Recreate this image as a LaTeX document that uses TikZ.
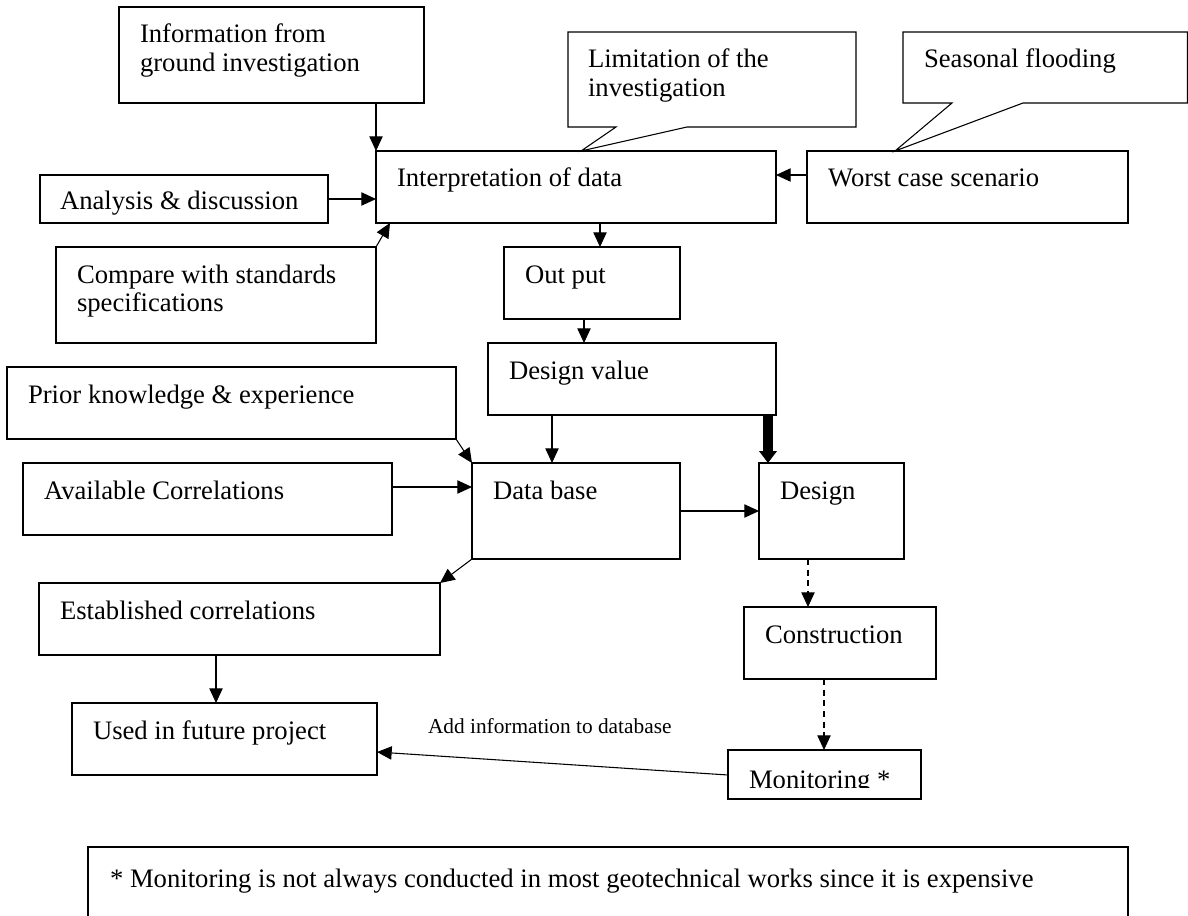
\documentclass[tikz,border=0pt]{standalone}
\usepackage{fontspec}
\setmainfont{Liberation Serif}
\usetikzlibrary{arrows.meta,calc}
\tikzset{
  box/.style={draw, line width=0.8pt, rectangle, inner sep=0pt, outer sep=0pt},
  txt/.style={anchor=base west, inner sep=0pt, outer sep=0pt, font=\fontsize{20}{21.2}\selectfont},
  smalltxt/.style={anchor=base west, inner sep=0pt, outer sep=0pt, font=\fontsize{16}{18}\selectfont},
  arr/.style={line width=0.8pt, -{Triangle[length=11pt,width=10pt]}},
  thickarr/.style={line width=7pt, -{Triangle[length=9pt,width=13pt]}},
  dasharr/.style={arr, dash pattern=on 4.5pt off 3.5pt},
  callout/.style={line width=0.8pt, line join=miter}
}
\newcommand\mybox[5]{%
  \node[box, minimum width={(#4-#2)*0.75pt}, minimum height={(#5-#3)*0.75pt}] (#1) at ({(#2+#4)/2},{(#3+#5)/2}) {};}
\newcommand\boxtext[2]{%
  \node[txt] (#1t) at ($(#1.north west)+(21,36)$) {#2};}
\begin{document}
\begin{tikzpicture}[x=0.75pt,y=-0.75pt]
\useasboundingbox (0,0) rectangle (1188,916);
\clip (0,0) rectangle (1188,916);

% boxes
\mybox{info}{119}{7}{424}{103}
\mybox{interp}{376}{151}{776}{223}
\mybox{ana}{40}{175}{328}{223}
\mybox{comp}{56}{247}{376}{343}
\mybox{worst}{807}{151}{1128}{223}
\mybox{out}{504}{247}{680}{319}
\mybox{dv}{488}{343}{776}{415}
\mybox{prior}{7}{367}{456}{439}
\mybox{avail}{23}{463}{392}{535}
\mybox{db}{472}{463}{680}{559}
\mybox{design}{759}{463}{904}{559}
\mybox{est}{39}{583}{440}{655}
\mybox{constr}{744}{607}{936}{679}
\mybox{used}{72}{703}{377}{775}
\mybox{mon}{728}{750}{921}{799}
\mybox{foot}{88}{847}{1128}{940}

% texts
\boxtext{info}{\begin{tabular}[t]{@{}l@{}}Information from\\ground investigation\end{tabular}}
\boxtext{interp}{Interpretation of data}
\node[txt] (anat) at ($(ana.north west)+(20,35)$) {Analysis \& discussion};
\boxtext{comp}{\begin{tabular}[t]{@{}l@{}}Compare with standards\\specifications\end{tabular}}
\boxtext{worst}{Worst case scenario}
\boxtext{out}{Out put}
\boxtext{dv}{Design value}
\boxtext{prior}{Prior knowledge \& experience}
\boxtext{avail}{Available Correlations}
\boxtext{db}{Data base}
\boxtext{design}{Design}
\boxtext{est}{Established correlations}
\boxtext{constr}{Construction}
\boxtext{used}{Used in future project}
\begin{scope}
  \clip (728,750) rectangle (921,787);
  \node[txt] (mont) at ($(mon.north west)+(21,38)$) {Monitoring *};
\end{scope}
\node[txt] (foott) at ($(foot.north west)+(22,40)$) {* Monitoring is not always conducted in most geotechnical works since it is expensive};

% callouts
\coordinate (limtip) at ($(interp.north west)+(205,0)$);
\draw[callout] (616,127) -- (568,127) -- (568,32) -- (856,32) -- (856,127) -- (687,127) -- (limtip) -- cycle;
\node[txt] (limt) at (588,68) {\begin{tabular}[t]{@{}l@{}}Limitation of the\\investigation\end{tabular}};
\coordinate (seatip) at ($(worst.north west)+(88,0)$);
\draw[callout] (952,103) -- (903,103) -- (903,32) -- (1187.5,32) -- (1187.5,103) -- (1023,103) -- (seatip) -- cycle;
\node[txt] (seat) at (924,68) {Seasonal flooding};

% connectors
\draw[arr] (interp.north west |- info.south) -- (interp.north west);
\draw[arr] (ana.east) -- (ana.east -| interp.west);
\draw[arr] (comp.north east) -- ($(interp.south west)+(14,0)$);
\draw[arr] ($(worst.north west)+(0,24)$) -- ($(interp.north east)+(0,24)$);
\coordinate (o1) at ($(out.north west)+(96,0)$);
\draw[arr] (o1 |- interp.south) -- (o1);
\coordinate (o2) at ($(dv.north west)+(96,0)$);
\draw[arr] (o2 |- out.south) -- (o2);
\draw[arr] (prior.south east) -- (db.north west);
\draw[arr] ($(avail.north east)+(0,24)$) -- ($(db.north west)+(0,24)$);
\coordinate (o3) at ($(db.north west)+(80,0)$);
\draw[arr] (o3 |- dv.south) -- (o3);
\coordinate (o4) at ($(design.north west)+(9,0)$);
\draw[thickarr] (o4 |- dv.south) -- (o4);
\draw[arr] (db.east) -- (design.west);
\draw[arr] (db.south west) -- (est.north east);
\coordinate (o5) at ($(used.north west)+(144,0)$);
\draw[arr] (o5 |- est.south) -- (o5);
\coordinate (o6) at ($(constr.north west)+(64,0)$);
\draw[dasharr] (o6 |- design.south) -- (o6);
\coordinate (o7) at ($(mon.north west)+(96,0)$);
\draw[dasharr] (o7 |- constr.south) -- (o7);
\draw[arr] ($(mon.north west)+(0,25)$) -- ($(used.north east)+(0,49)$);
\node[smalltxt] (addt) at (428,733) {Add information to database};
\end{tikzpicture}
\end{document}
